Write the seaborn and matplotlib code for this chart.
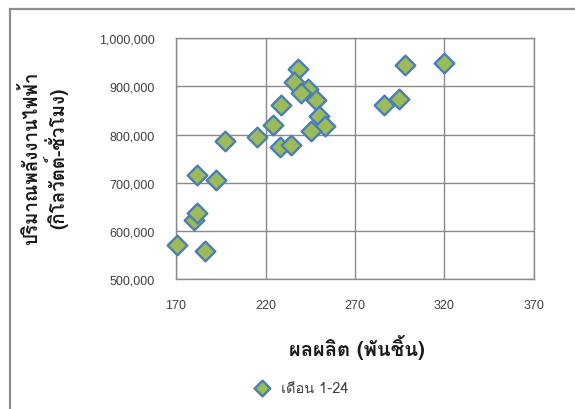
import matplotlib
matplotlib.use("Agg")
import matplotlib.pyplot as plt
import matplotlib.ticker as mticker
from matplotlib import font_manager
from matplotlib.ft2font import FT2Font
from matplotlib.patches import Rectangle
import pandas as pd
import seaborn as sns

# Monthly output (thousand pieces) and electricity use (kWh), months 1-24
output_k = [170.5, 186.0, 180.0, 182.0, 181.5, 192.5, 197.5, 215.0,
            224.0, 228.5, 228.0, 234.0, 243.5, 238.0, 236.0, 240.0,
            248.0, 250.0, 253.0, 245.5, 298.0, 319.5, 286.0, 294.5]
energy_kwh = [572000, 559000, 623000, 638000, 717000, 706000, 786000, 795000,
              820000, 861000, 774000, 778000, 894000, 936000, 909000, 886000,
              872000, 838000, 817000, 807000, 944000, 949000, 861000, 874000]
series_label = "เดือน 1-24"
x_title = "ผลผลิต (พันชิ้น)"
y_title = "ปริมาณพลังงานไฟฟ้า\n(กิโลวัตต์-ชั่วโมง)"
x_ticks = [170, 220, 270, 320, 370]
y_ticks = [500000, 600000, 700000, 800000, 900000, 1000000]


def find_thai_family():
    seen = set()
    for entry in font_manager.fontManager.ttflist:
        if entry.name in seen:
            continue
        seen.add(entry.name)
        try:
            cmap = FT2Font(entry.fname).get_charmap()
        except Exception:
            continue
        if 0x0E1B in cmap and 0x0E34 in cmap and 0x0E49 in cmap:
            return entry.name
    return None


sns.set_style("white")
thai = find_thai_family()
latin_fams = ["Liberation Sans", "DejaVu Sans"]
thai_fams = ([thai] if thai else []) + latin_fams
plt.rcParams["font.family"] = latin_fams + ([thai] if thai else [])

df = pd.DataFrame({"output": output_k, "energy": energy_kwh})

W, H = 575, 410
fig = plt.figure(figsize=(W / 100, H / 100), dpi=100)
ax = fig.add_axes([176 / W, 1 - 280.3 / H, (534 - 176) / W, (280.3 - 39) / H])

grid_c = "#8a8a8a"
sns.scatterplot(data=df, x="output", y="energy", marker="D", s=100,
                color="#9BBB59", edgecolor="#4A7EBB", linewidth=1.7,
                label=series_label, ax=ax, zorder=3, legend=True,
                clip_on=False)

ax.set_xlim(170, 370)
ax.set_ylim(500000, 1000000)
ax.set_xticks(x_ticks)
ax.set_yticks(y_ticks)
ax.yaxis.set_major_formatter(mticker.StrMethodFormatter("{x:,.0f}"))
ax.grid(True, color=grid_c, linewidth=1.0, zorder=0)
ax.set_axisbelow(True)
for sp in ax.spines.values():
    sp.set_color(grid_c)
    sp.set_linewidth(1.0)
ax.tick_params(axis="both", direction="out", length=5, width=1.0,
               color=grid_c, labelcolor="#404040", labelsize=9)
ax.tick_params(axis="y", pad=10)
ax.tick_params(axis="x", pad=9)
ax.set_xlabel("")
ax.set_ylabel("")

fig.text(357 / W, 1 - 348 / H, x_title, ha="center", va="center",
         fontsize=14.5, fontweight="bold", family=thai_fams, color="#1a1a1a")
fig.text(44 / W, 1 - 158 / H, y_title, ha="center", va="center",
         rotation=90, fontsize=13.5, fontweight="bold", family=thai_fams,
         color="#1a1a1a", linespacing=1.1, multialignment="center")

leg = ax.legend(loc="center", bbox_to_anchor=(298 / W, 1 - 389 / H),
                bbox_transform=fig.transFigure, frameon=False,
                markerscale=0.8, handletextpad=0.3,
                prop={"family": thai_fams, "size": 10.5})
for t in leg.get_texts():
    t.set_color("#404040")

fig.patches.append(Rectangle((9.5 / W, -0.05), 1.2, 1 - 9.5 / H + 0.05,
                             transform=fig.transFigure, fill=False,
                             edgecolor="#8c8c8c", linewidth=1.6))

fig.savefig("out.png", dpi=100)
